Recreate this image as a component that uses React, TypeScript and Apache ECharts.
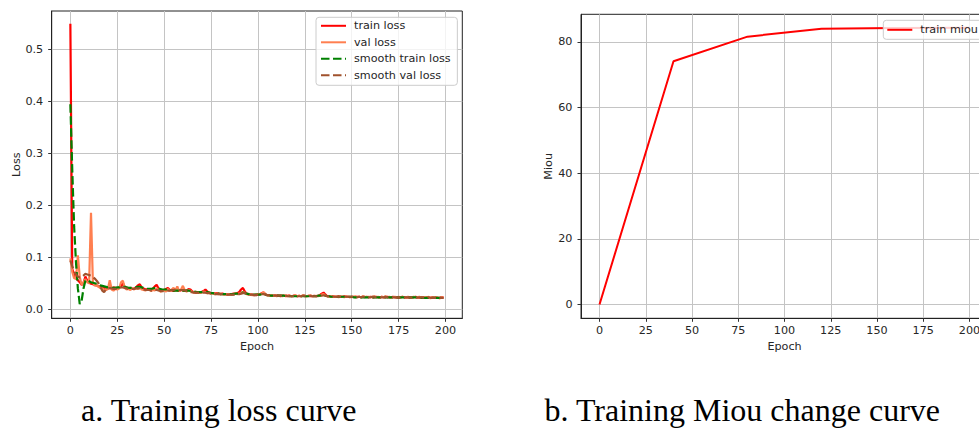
import React, { useEffect, useRef } from 'react';
import * as echarts from 'echarts';

// ---------- Data ----------
const trainLoss = [
  0.550, 0.078, 0.066, 0.060, 0.056, 0.052, 0.047, 0.050, 0.063, 0.055,
  0.051, 0.049, 0.048, 0.047, 0.046, 0.044, 0.043, 0.042, 0.041, 0.042,
  0.040, 0.041, 0.040, 0.042, 0.041, 0.040, 0.042, 0.044, 0.050, 0.043,
  0.041, 0.040, 0.041, 0.039, 0.040, 0.042, 0.046, 0.048, 0.042, 0.040,
  0.038, 0.039, 0.037, 0.038, 0.040, 0.044, 0.047, 0.040, 0.037, 0.036,
  0.037, 0.039, 0.041, 0.037, 0.036, 0.035, 0.037, 0.036, 0.035, 0.037,
  0.036, 0.035, 0.036, 0.039, 0.038, 0.034, 0.033, 0.032, 0.033, 0.032,
  0.033, 0.035, 0.038, 0.034, 0.032, 0.031, 0.031, 0.030, 0.031, 0.030,
  0.029, 0.030, 0.029, 0.029, 0.028, 0.029, 0.029, 0.030, 0.030, 0.031,
  0.033, 0.038, 0.041, 0.034, 0.030, 0.029, 0.028, 0.028, 0.027, 0.028,
  0.028, 0.029, 0.031, 0.032, 0.029, 0.027, 0.027, 0.026, 0.026, 0.027,
  0.026, 0.026, 0.025, 0.026, 0.026, 0.025, 0.026, 0.026, 0.025, 0.026,
  0.026, 0.025, 0.026, 0.025, 0.026, 0.025, 0.025, 0.026, 0.025, 0.025,
  0.026, 0.025, 0.026, 0.027, 0.030, 0.032, 0.028, 0.025, 0.025, 0.024,
  0.025, 0.024, 0.024, 0.025, 0.024, 0.024, 0.025, 0.024, 0.024, 0.023,
  0.024, 0.024, 0.023, 0.024, 0.024, 0.023, 0.024, 0.023, 0.024, 0.023,
  0.024, 0.023, 0.023, 0.024, 0.023, 0.023, 0.024, 0.023, 0.023, 0.024,
  0.023, 0.023, 0.024, 0.023, 0.023, 0.022, 0.023, 0.024, 0.023, 0.023,
  0.023, 0.022, 0.023, 0.023, 0.024, 0.023, 0.022, 0.023, 0.023, 0.022,
  0.023, 0.022, 0.022, 0.023, 0.022, 0.023, 0.022, 0.022, 0.023, 0.022,
];

const valLoss = [
  0.098, 0.072, 0.060, 0.058, 0.104, 0.062, 0.047, 0.052, 0.058, 0.052,
  0.050, 0.186, 0.052, 0.045, 0.047, 0.043, 0.041, 0.040, 0.038, 0.037,
  0.039, 0.056, 0.038, 0.036, 0.039, 0.038, 0.040, 0.052, 0.055, 0.041,
  0.038, 0.039, 0.037, 0.040, 0.038, 0.041, 0.039, 0.043, 0.038, 0.037,
  0.036, 0.038, 0.039, 0.035, 0.037, 0.036, 0.040, 0.038, 0.034, 0.035,
  0.036, 0.034, 0.039, 0.035, 0.038, 0.041, 0.036, 0.044, 0.035, 0.038,
  0.045, 0.036, 0.034, 0.037, 0.035, 0.033, 0.032, 0.034, 0.031, 0.033,
  0.032, 0.034, 0.033, 0.031, 0.032, 0.030, 0.031, 0.029, 0.030, 0.029,
  0.030, 0.029, 0.028, 0.029, 0.028, 0.029, 0.028, 0.029, 0.030, 0.029,
  0.030, 0.031, 0.033, 0.032, 0.029, 0.028, 0.029, 0.027, 0.028, 0.027,
  0.029, 0.028, 0.030, 0.033, 0.028, 0.027, 0.026, 0.027, 0.026, 0.027,
  0.025, 0.026, 0.027, 0.025, 0.026, 0.027, 0.025, 0.026, 0.025, 0.026,
  0.027, 0.025, 0.026, 0.025, 0.027, 0.026, 0.025, 0.026, 0.027, 0.025,
  0.025, 0.026, 0.025, 0.026, 0.028, 0.029, 0.026, 0.025, 0.024, 0.025,
  0.024, 0.025, 0.024, 0.023, 0.025, 0.024, 0.023, 0.025, 0.024, 0.024,
  0.023, 0.024, 0.025, 0.023, 0.024, 0.023, 0.025, 0.024, 0.023, 0.024,
  0.023, 0.024, 0.025, 0.023, 0.024, 0.022, 0.024, 0.023, 0.025, 0.023,
  0.024, 0.022, 0.023, 0.024, 0.023, 0.024, 0.022, 0.024, 0.023, 0.022,
  0.024, 0.023, 0.022, 0.024, 0.023, 0.022, 0.024, 0.023, 0.022, 0.023,
  0.022, 0.024, 0.021, 0.023, 0.022, 0.023, 0.022, 0.021, 0.023, 0.022,
];

const smoothTrainLoss = [
  0.395, 0.270, 0.160, 0.090, 0.040, 0.010, 0.016, 0.040, 0.055, 0.056,
  0.054, 0.052, 0.051, 0.050, 0.049, 0.048, 0.046, 0.045, 0.044, 0.043,
  0.042, 0.042, 0.041, 0.041, 0.041, 0.042, 0.042, 0.043, 0.043, 0.043,
  0.042, 0.041, 0.041, 0.041, 0.041, 0.042, 0.043, 0.043, 0.042, 0.041,
  0.040, 0.039, 0.039, 0.039, 0.040, 0.041, 0.041, 0.040, 0.039, 0.038,
  0.038, 0.038, 0.038, 0.037, 0.037, 0.036, 0.036, 0.036, 0.036, 0.036,
  0.036, 0.036, 0.036, 0.036, 0.035, 0.035, 0.034, 0.033, 0.033, 0.033,
  0.033, 0.034, 0.034, 0.033, 0.032, 0.031, 0.031, 0.030, 0.030, 0.030,
  0.029, 0.029, 0.029, 0.029, 0.029, 0.029, 0.029, 0.029, 0.030, 0.030,
  0.031, 0.032, 0.032, 0.031, 0.030, 0.029, 0.028, 0.028, 0.028, 0.028,
  0.028, 0.028, 0.029, 0.029, 0.028, 0.027, 0.027, 0.026, 0.026, 0.026,
  0.026, 0.026, 0.026, 0.026, 0.026, 0.025, 0.025, 0.025, 0.025, 0.025,
  0.025, 0.025, 0.025, 0.025, 0.025, 0.025, 0.025, 0.025, 0.025, 0.025,
  0.025, 0.025, 0.026, 0.026, 0.027, 0.027, 0.026, 0.025, 0.025, 0.024,
  0.024, 0.024, 0.024, 0.024, 0.024, 0.024, 0.024, 0.024, 0.024, 0.024,
  0.024, 0.023, 0.023, 0.023, 0.023, 0.023, 0.023, 0.023, 0.023, 0.023,
  0.023, 0.023, 0.023, 0.023, 0.023, 0.023, 0.023, 0.023, 0.023, 0.023,
  0.023, 0.023, 0.023, 0.023, 0.023, 0.023, 0.023, 0.023, 0.023, 0.023,
  0.023, 0.023, 0.023, 0.023, 0.023, 0.022, 0.022, 0.022, 0.022, 0.022,
  0.022, 0.022, 0.022, 0.022, 0.022, 0.022, 0.022, 0.022, 0.022, 0.022,
];

const smoothValLoss = [
  0.094, 0.083, 0.073, 0.067, 0.063, 0.061, 0.062, 0.065, 0.068, 0.067,
  0.066, 0.064, 0.062, 0.059, 0.055, 0.050, 0.043, 0.036, 0.033, 0.038,
  0.040, 0.041, 0.040, 0.039, 0.039, 0.040, 0.041, 0.042, 0.042, 0.041,
  0.040, 0.039, 0.039, 0.039, 0.039, 0.040, 0.040, 0.040, 0.039, 0.038,
  0.037, 0.037, 0.037, 0.036, 0.036, 0.037, 0.037, 0.036, 0.035, 0.035,
  0.035, 0.035, 0.036, 0.036, 0.037, 0.037, 0.038, 0.038, 0.037, 0.037,
  0.037, 0.036, 0.035, 0.034, 0.033, 0.033, 0.032, 0.032, 0.032, 0.032,
  0.032, 0.032, 0.032, 0.031, 0.031, 0.030, 0.030, 0.029, 0.029, 0.029,
  0.029, 0.029, 0.028, 0.028, 0.028, 0.028, 0.028, 0.028, 0.029, 0.029,
  0.029, 0.030, 0.031, 0.031, 0.030, 0.029, 0.028, 0.028, 0.027, 0.027,
  0.028, 0.028, 0.029, 0.029, 0.028, 0.027, 0.027, 0.026, 0.026, 0.026,
  0.026, 0.026, 0.026, 0.026, 0.026, 0.026, 0.025, 0.025, 0.025, 0.025,
  0.026, 0.025, 0.025, 0.025, 0.026, 0.026, 0.025, 0.025, 0.026, 0.025,
  0.025, 0.025, 0.025, 0.026, 0.026, 0.027, 0.026, 0.025, 0.025, 0.024,
  0.024, 0.024, 0.024, 0.024, 0.024, 0.024, 0.024, 0.024, 0.024, 0.024,
  0.024, 0.024, 0.024, 0.023, 0.024, 0.023, 0.024, 0.024, 0.023, 0.023,
  0.023, 0.024, 0.024, 0.023, 0.023, 0.023, 0.023, 0.023, 0.024, 0.023,
  0.023, 0.023, 0.023, 0.023, 0.023, 0.023, 0.023, 0.023, 0.023, 0.023,
  0.023, 0.023, 0.023, 0.023, 0.023, 0.022, 0.023, 0.023, 0.022, 0.023,
  0.022, 0.023, 0.022, 0.022, 0.022, 0.022, 0.022, 0.022, 0.022, 0.022,
];

const miouEpochs = [0, 40, 80, 120, 160, 200];
const trainMiou = [0, 74.1, 81.6, 84.0, 84.2, 84.3];

const epochTicks = [0, 25, 50, 75, 100, 125, 150, 175, 200];
const lossTicks = [0, 0.1, 0.2, 0.3, 0.4, 0.5];
const miouTicks = [0, 20, 40, 60, 80];

const lossLegend = ['train loss', 'val loss', 'smooth train loss', 'smooth val loss'];
const miouLegend = ['train miou'];
const captions = ['a. Training loss curve', 'b. Training Miou change curve'];

// ---------- Styling ----------
const FONT = 'DejaVu Sans';
const FS = 11.2;
const TXT = '#262626';
const GRIDC = '#c4c4c4';

function xAxisCfg(gridIndex: number, min: number, max: number) {
  return {
    type: 'value',
    gridIndex,
    min,
    max,
    name: 'Epoch',
    nameLocation: 'middle',
    nameGap: 22,
    nameTextStyle: { fontFamily: FONT, fontSize: FS, color: TXT },
    axisLine: { show: true, onZero: false, lineStyle: { color: '#222', width: 1 } },
    axisTick: { show: true, inside: false, length: 3.5, customValues: epochTicks, lineStyle: { color: '#333', width: 1 } },
    axisLabel: { customValues: epochTicks, margin: 7, fontFamily: FONT, fontSize: FS, color: TXT },
    splitLine: { show: true, lineStyle: { color: GRIDC, width: 1 } },
  };
}

function yAxisCfg(gridIndex: number, min: number, max: number, ticks: number[], name: string, nameGap: number, fmt: (v: number) => string) {
  return {
    type: 'value',
    gridIndex,
    min,
    max,
    name,
    nameLocation: 'middle',
    nameGap,
    nameTextStyle: { fontFamily: FONT, fontSize: FS, color: TXT },
    axisLine: { show: true, onZero: false, lineStyle: { color: '#222', width: 1 } },
    axisTick: { show: true, inside: false, length: 3.5, customValues: ticks, lineStyle: { color: '#333', width: 1 } },
    axisLabel: { customValues: ticks, margin: 8.5, fontFamily: FONT, fontSize: FS, color: TXT, formatter: fmt },
    splitLine: { show: true, lineStyle: { color: GRIDC, width: 1 } },
  };
}

const legendBase = {
  orient: 'vertical',
  itemWidth: 25,
  itemHeight: 12,
  itemGap: 5.5,
  backgroundColor: 'rgba(255,255,255,0.8)',
  borderColor: '#cccccc',
  borderWidth: 1,
  borderRadius: 3,
  selectedMode: false,
  itemStyle: { opacity: 0 },
  textStyle: { fontFamily: FONT, fontSize: FS, color: TXT, padding: [0, 0, 0, 3] },
};

export default function App() {
  const ref = useRef<HTMLDivElement>(null);

  useEffect(() => {
    if (!ref.current) return;
    const chart = echarts.init(ref.current, null, { renderer: 'svg', width: 979, height: 430 });

    const option: any = {
      animation: false,
      backgroundColor: '#ffffff',
      grid: [
        { left: 51.7, top: 11, width: 410.6, height: 307.3, show: true, borderColor: '#222', borderWidth: 1, backgroundColor: 'transparent', outerBoundsMode: 'none', containLabel: false },
        { left: 581, top: 14.3, width: 407, height: 304, show: true, borderColor: '#222', borderWidth: 1, backgroundColor: 'transparent', outerBoundsMode: 'none', containLabel: false },
      ],
      xAxis: [xAxisCfg(0, -9.95, 208.95), xAxisCfg(1, -10, 210)],
      yAxis: [
        yAxisCfg(0, -0.0175, 0.5745, lossTicks, 'Loss', 30, (v: number) => v.toFixed(1)),
        yAxisCfg(1, -4.21, 88.41, miouTicks, 'Miou', 27, (v: number) => String(Math.round(v))),
      ],
      legend: [
        { ...legendBase, data: lossLegend, left: 316, top: 17.3, padding: [3, 6.7, 4.5, 4] },
        { ...legendBase, data: miouLegend, left: 883.3, top: 20.3, padding: [4, 8, 4, 3] },
      ],
      series: [
        {
          name: lossLegend[0], type: 'line', xAxisIndex: 0, yAxisIndex: 0, symbol: 'none',
          data: trainLoss.map((v, i) => [i, v]),
          lineStyle: { color: '#ff0000', width: 2.2 }, itemStyle: { color: '#ff0000' },
        },
        {
          name: lossLegend[1], type: 'line', xAxisIndex: 0, yAxisIndex: 0, symbol: 'none',
          data: valLoss.map((v, i) => [i, v]),
          lineStyle: { color: '#ff7f50', width: 2.2 }, itemStyle: { color: '#ff7f50' },
        },
        {
          name: lossLegend[2], type: 'line', xAxisIndex: 0, yAxisIndex: 0, symbol: 'none',
          data: smoothTrainLoss.map((v, i) => [i, v]),
          lineStyle: { color: '#008000', width: 2.2, type: [8.5, 3.5] }, itemStyle: { color: '#008000' },
        },
        {
          name: lossLegend[3], type: 'line', xAxisIndex: 0, yAxisIndex: 0, symbol: 'none',
          data: smoothValLoss.map((v, i) => [i, v]),
          lineStyle: { color: '#a0522d', width: 2.2, type: [8.5, 3.5] }, itemStyle: { color: '#a0522d' },
        },
        {
          name: miouLegend[0], type: 'line', xAxisIndex: 1, yAxisIndex: 1, symbol: 'none',
          data: trainMiou.map((v, i) => [miouEpochs[i], v]),
          lineStyle: { color: '#ff0000', width: 2 }, itemStyle: { color: '#ff0000' },
        },
      ],
      graphic: [
        {
          type: 'text', x: 81, y: 410,
          style: { text: captions[0], fontFamily: 'Liberation Serif', fontSize: 32, fill: '#000', verticalAlign: 'middle', align: 'left' },
        },
        {
          type: 'text', x: 544.5, y: 410,
          style: { text: captions[1], fontFamily: 'Liberation Serif', fontSize: 32, fill: '#000', verticalAlign: 'middle', align: 'left' },
        },
      ],
    };

    chart.setOption(option);
    return () => chart.dispose();
  }, []);

  return (
    <div
      ref={ref}
      style={{ position: 'absolute', left: 0, top: 0, width: 979, height: 430, background: '#fff', overflow: 'hidden' }}
    />
  );
}
